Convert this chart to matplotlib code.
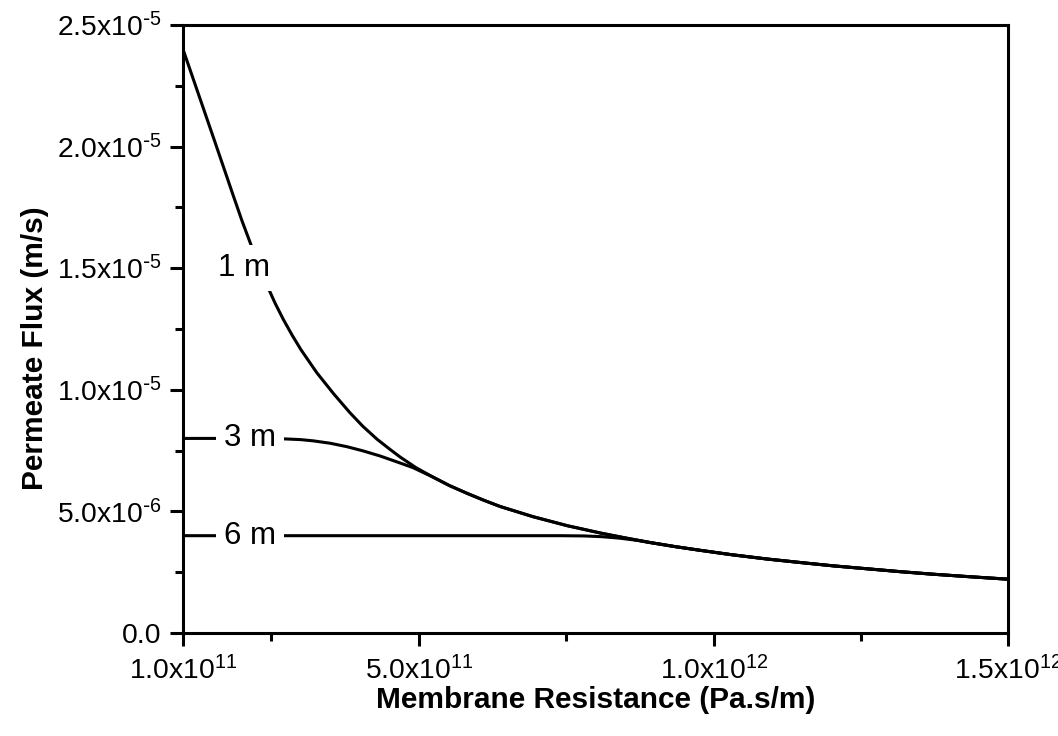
import numpy as np
import matplotlib
matplotlib.use("Agg")
import matplotlib.pyplot as plt
from matplotlib.ticker import FixedLocator

# ── Data ──────────────────────────────────────────────────────────────────────
# membrane resistance (Pa.s/m) and permeate flux (m/s) for each channel length
r_1m = [1.00e11, 1.27e11, 1.54e11, 1.85e11, 2.00e11, 2.17e11, 2.30e11, 2.43e11,
        2.56e11, 2.70e11, 2.85e11, 3.00e11, 3.27e11, 3.55e11, 3.83e11, 4.05e11,
        4.29e11, 4.50e11, 4.68e11, 4.95e11, 5.24e11, 5.52e11, 5.82e11, 6.10e11,
        6.38e11, 6.94e11, 7.52e11, 8.08e11, 8.50e11, 8.92e11, 9.35e11, 9.77e11,
        1.03e12, 1.091e12, 1.15e12, 1.203e12, 1.26e12, 1.317e12, 1.37e12,
        1.43e12, 1.50e12]
j_1m = [2.400e-5, 2.210e-5, 2.020e-5, 1.800e-5, 1.695e-5, 1.585e-5, 1.505e-5,
        1.427e-5, 1.357e-5, 1.290e-5, 1.225e-5, 1.165e-5, 1.070e-5, 9.850e-6,
        9.060e-6, 8.500e-6, 7.970e-6, 7.570e-6, 7.240e-6, 6.800e-6, 6.410e-6,
        6.060e-6, 5.740e-6, 5.460e-6, 5.200e-6, 4.780e-6, 4.410e-6, 4.110e-6,
        3.910e-6, 3.720e-6, 3.550e-6, 3.400e-6, 3.220e-6, 3.040e-6, 2.890e-6,
        2.760e-6, 2.640e-6, 2.520e-6, 2.420e-6, 2.320e-6, 2.210e-6]

r_3m = [1.00e11, 2.14e11, 2.73e11, 3.00e11, 3.21e11, 3.50e11, 3.78e11, 4.05e11,
        4.34e11, 4.60e11, 4.90e11, 5.24e11, 5.52e11, 5.82e11, 6.10e11, 6.38e11,
        6.94e11, 7.52e11, 8.08e11, 8.50e11, 8.92e11, 9.35e11, 9.77e11, 1.03e12,
        1.091e12, 1.15e12, 1.203e12, 1.26e12, 1.317e12, 1.37e12, 1.43e12, 1.50e12]
j_3m = [8.00e-6, 8.00e-6, 7.98e-6, 7.95e-6, 7.90e-6, 7.80e-6, 7.66e-6, 7.49e-6,
        7.28e-6, 7.06e-6, 6.80e-6, 6.41e-6, 6.06e-6, 5.74e-6, 5.46e-6, 5.20e-6,
        4.78e-6, 4.41e-6, 4.11e-6, 3.91e-6, 3.72e-6, 3.55e-6, 3.40e-6, 3.22e-6,
        3.04e-6, 2.89e-6, 2.76e-6, 2.64e-6, 2.52e-6, 2.42e-6, 2.32e-6, 2.21e-6]

r_6m = [1.00e11, 2.14e11, 5.00e11, 7.40e11, 7.80e11, 8.10e11, 8.40e11, 8.70e11,
        8.92e11, 9.35e11, 9.77e11, 1.03e12, 1.091e12, 1.15e12, 1.203e12, 1.26e12,
        1.317e12, 1.37e12, 1.43e12, 1.50e12]
j_6m = [4.00e-6, 4.00e-6, 4.00e-6, 4.00e-6, 3.99e-6, 3.96e-6, 3.90e-6, 3.81e-6,
        3.72e-6, 3.55e-6, 3.40e-6, 3.22e-6, 3.04e-6, 2.89e-6, 2.76e-6, 2.64e-6,
        2.52e-6, 2.42e-6, 2.32e-6, 2.21e-6]

curve_labels = ["1 m", "3 m", "6 m"]
label_r = [2.035e11, 2.14e11, 2.14e11]
label_j = [1.50e-5, 8.0e-6, 4.0e-6]

x_ticks = [1e11, 5e11, 1e12, 1.5e12]
x_ticklabels = ["1.0x10$^{11}$", "5.0x10$^{11}$", "1.0x10$^{12}$", "1.5x10$^{12}$"]
x_minor = [2.5e11, 7.5e11, 1.25e12]
y_ticks = [0, 5e-6, 1e-5, 1.5e-5, 2e-5, 2.5e-5]
y_ticklabels = ["0.0", r"5.0x10$^{\text{-}6}$", r"1.0x10$^{\text{-}5}$",
                r"1.5x10$^{\text{-}5}$", r"2.0x10$^{\text{-}5}$", r"2.5x10$^{\text{-}5}$"]
y_minor = [2.5e-6, 7.5e-6, 1.25e-5, 1.75e-5, 2.25e-5]

# ── Style ─────────────────────────────────────────────────────────────────────
plt.rcParams["font.family"] = ["Liberation Sans", "DejaVu Sans"]
plt.rcParams["mathtext.default"] = "regular"
LW = 2.2

fig = plt.figure(figsize=(10.58, 7.36), dpi=100)
ax = fig.add_axes([0.173, 0.140, 0.780, 0.826])

for r, j in [(r_1m, j_1m), (r_3m, j_3m), (r_6m, j_6m)]:
    ax.plot(r, j, color="black", lw=LW, solid_joinstyle="round",
            solid_capstyle="butt", zorder=2)

for txt, r, j in zip(curve_labels, label_r, label_j):
    ax.text(r, j, txt, fontsize=22.5, ha="center", va="center", zorder=3,
            bbox=dict(boxstyle="square,pad=0.25", fc="white", ec="none"))

ax.set_xlim(1e11, 1.5e12)
ax.set_ylim(0, 2.5e-5)
ax.set_xticks(x_ticks, x_ticklabels)
ax.set_yticks(y_ticks, y_ticklabels)
ax.xaxis.set_minor_locator(FixedLocator(x_minor))
ax.yaxis.set_minor_locator(FixedLocator(y_minor))
ax.tick_params(which="both", direction="out", width=LW, labelsize=20.3)
ax.tick_params(which="major", length=9.4)
ax.tick_params(which="minor", length=5.8)
ax.tick_params(axis="y", pad=6)
ax.tick_params(axis="x", pad=7)
for s in ax.spines.values():
    s.set_linewidth(LW)

ax.set_xlabel("Membrane Resistance (Pa.s/m)", fontsize=21.5, fontweight="bold", labelpad=1)
ax.set_ylabel("Permeate Flux (m/s)", fontsize=21.5, fontweight="bold")
ax.yaxis.set_label_coords(-0.163, 0.469)

fig.savefig("out.png", dpi=100)
